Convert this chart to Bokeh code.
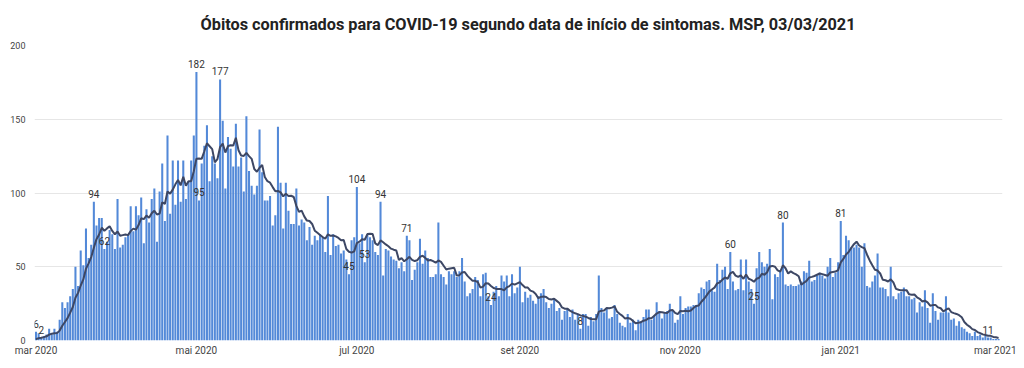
import pandas as pd
from bokeh.plotting import figure
from bokeh.models import ColumnDataSource, FixedTicker, Range1d
from bokeh.core.properties import value
from bokeh.embed import file_html
from bokeh.resources import INLINE

# ---------------- data ----------------
start_date = "2020-03-01"
deaths = [
    6, 5, 2, 3, 4, 8, 4, 8, 6, 14,
    26, 22, 26, 30, 35, 50, 37, 61, 51, 76,
    56, 65, 94, 78, 83, 83, 62, 67, 75, 72,
    62, 96, 63, 65, 70, 72, 91, 74, 91, 85,
    97, 66, 89, 80, 96, 103, 67, 101, 120, 81,
    139, 86, 122, 92, 122, 94, 122, 96, 108, 122,
    139, 182, 95, 120, 132, 146, 108, 125, 120, 110,
    177, 149, 103, 138, 130, 118, 147, 118, 124, 101,
    152, 115, 105, 99, 105, 143, 114, 95, 95, 98,
    78, 85, 145, 107, 76, 107, 88, 79, 79, 103,
    78, 82, 80, 68, 77, 65, 71, 68, 72, 70,
    60, 98, 58, 72, 64, 65, 59, 61, 55, 45,
    68, 70, 104, 66, 72, 53, 72, 70, 68, 60,
    58, 94, 44, 62, 61, 57, 55, 54, 49, 53,
    47, 71, 68, 41, 48, 53, 69, 52, 61, 56,
    43, 43, 45, 80, 45, 43, 38, 47, 45, 47,
    43, 47, 56, 40, 30, 32, 35, 43, 41, 30,
    45, 46, 30, 24, 33, 37, 30, 44, 40, 44,
    30, 45, 32, 36, 50, 26, 33, 29, 31, 27,
    25, 30, 32, 35, 26, 22, 25, 28, 20, 22,
    14, 20, 22, 16, 21, 14, 18, 8, 18, 18,
    10, 16, 13, 18, 44, 22, 19, 22, 15, 16,
    24, 18, 12, 10, 9, 18, 12, 14, 7, 14,
    13, 16, 21, 21, 14, 17, 26, 20, 15, 19,
    20, 25, 20, 12, 14, 30, 18, 22, 23, 23,
    24, 24, 32, 36, 35, 40, 41, 34, 33, 52,
    41, 48, 50, 35, 60, 40, 34, 35, 55, 34,
    55, 40, 35, 25, 49, 60, 53, 50, 52, 62,
    28, 45, 43, 47, 80, 38, 37, 38, 37, 37,
    38, 40, 47, 46, 54, 40, 41, 44, 46, 44,
    42, 50, 56, 43, 46, 53, 81, 58, 71, 68,
    63, 63, 65, 63, 50, 66, 37, 36, 40, 44,
    59, 36, 36, 35, 30, 50, 30, 28, 32, 33,
    36, 30, 30, 28, 29, 19, 26, 23, 34, 22,
    12, 32, 20, 14, 19, 19, 30, 19, 14, 15,
    10, 13, 9, 8, 6, 5, 3, 6, 3, 4,
    2, 3, 2, 2, 1, 1, 1,
]
label_days = [0, 2, 22, 26, 61, 62, 70, 119, 122, 125, 131, 141, 173, 207, 264, 273, 284, 306, 362]
label_texts = ["6", "2", "94", "62", "182", "95", "177", "45", "104", "53", "94", "71",
               "24", "8", "60", "25", "80", "81", "11"]
tick_dates = ["2020-03-01", "2020-05-01", "2020-07-01", "2020-09-01",
              "2020-11-01", "2021-01-01", "2021-03-01"]
tick_labels = ["mar 2020", "mai 2020", "jul 2020", "set 2020",
               "nov 2020", "jan 2021", "mar 2021"]
y_ticks = [0, 50, 100, 150, 200]
title_text = "Óbitos confirmados para COVID-19 segundo data de início de sintomas. MSP, 03/03/2021"

# ---------------- derived ----------------
DAY = 86400000
dates = pd.date_range(start_date, periods=len(deaths), freq="D")
x_ms = [int(d.value // 10**6) for d in dates]
ma = (pd.Series(deaths).rolling(7, min_periods=1).sum() / 7).tolist()
src = ColumnDataSource(dict(x=x_ms, deaths=deaths, ma=ma))

lab_src = ColumnDataSource(dict(
    x=[x_ms[d] for d in label_days],
    y=[deaths[d] for d in label_days],
    t=label_texts,
))

tick_ms = [int(pd.Timestamp(t).value // 10**6) for t in tick_dates]
t0 = x_ms[0]

p = figure(width=1016, height=360, output_backend="svg", toolbar_location=None,
           x_range=Range1d(t0 - 0.57 * DAY, t0 + 367.5 * DAY),
           y_range=Range1d(0, 200),
           min_border_left=34, min_border_right=14,
           min_border_top=43, min_border_bottom=20)

p.title.text = title_text
p.title.align = "left"
p.title.offset = 166
p.title.text_font = "Roboto"
p.title.text_font_size = "16.3px"
p.title.text_font_style = "bold"
p.title.text_color = "#222222"
p.title.standoff = 24

p.vbar(x="x", top="deaths", width=0.78 * DAY, source=src,
       fill_color="#5389d8", line_color=None)
p.line(x="x", y="ma", source=src, line_color="#3d4764", line_width=2)
p.text(x="x", y="y", text="t", source=lab_src, text_align="center",
       text_baseline="bottom", y_offset=-4, text_font=value("Roboto"),
       text_font_size="10px", text_color="#333333")

p.xaxis.ticker = FixedTicker(ticks=tick_ms)
p.xaxis.major_label_overrides = dict(zip(tick_ms, tick_labels))
p.yaxis.ticker = FixedTicker(ticks=y_ticks)

for ax in (p.xaxis, p.yaxis):
    ax.axis_line_color = None
    ax.major_tick_line_color = None
    ax.minor_tick_line_color = None
    ax.major_tick_out = 0
    ax.major_tick_in = 0
    ax.minor_tick_out = 0
    ax.minor_tick_in = 0
    ax.major_label_text_font = "Roboto"
    ax.major_label_text_color = "#444444"
p.xaxis.major_label_text_font_size = "10px"
p.yaxis.major_label_text_font_size = "9px"
p.xaxis.major_label_standoff = 4
p.yaxis.major_label_standoff = 9

p.xgrid.grid_line_color = None
p.ygrid.grid_line_color = "#e6e6e6"
p.outline_line_color = None

open("out.html", "w").write(file_html(p, INLINE))
